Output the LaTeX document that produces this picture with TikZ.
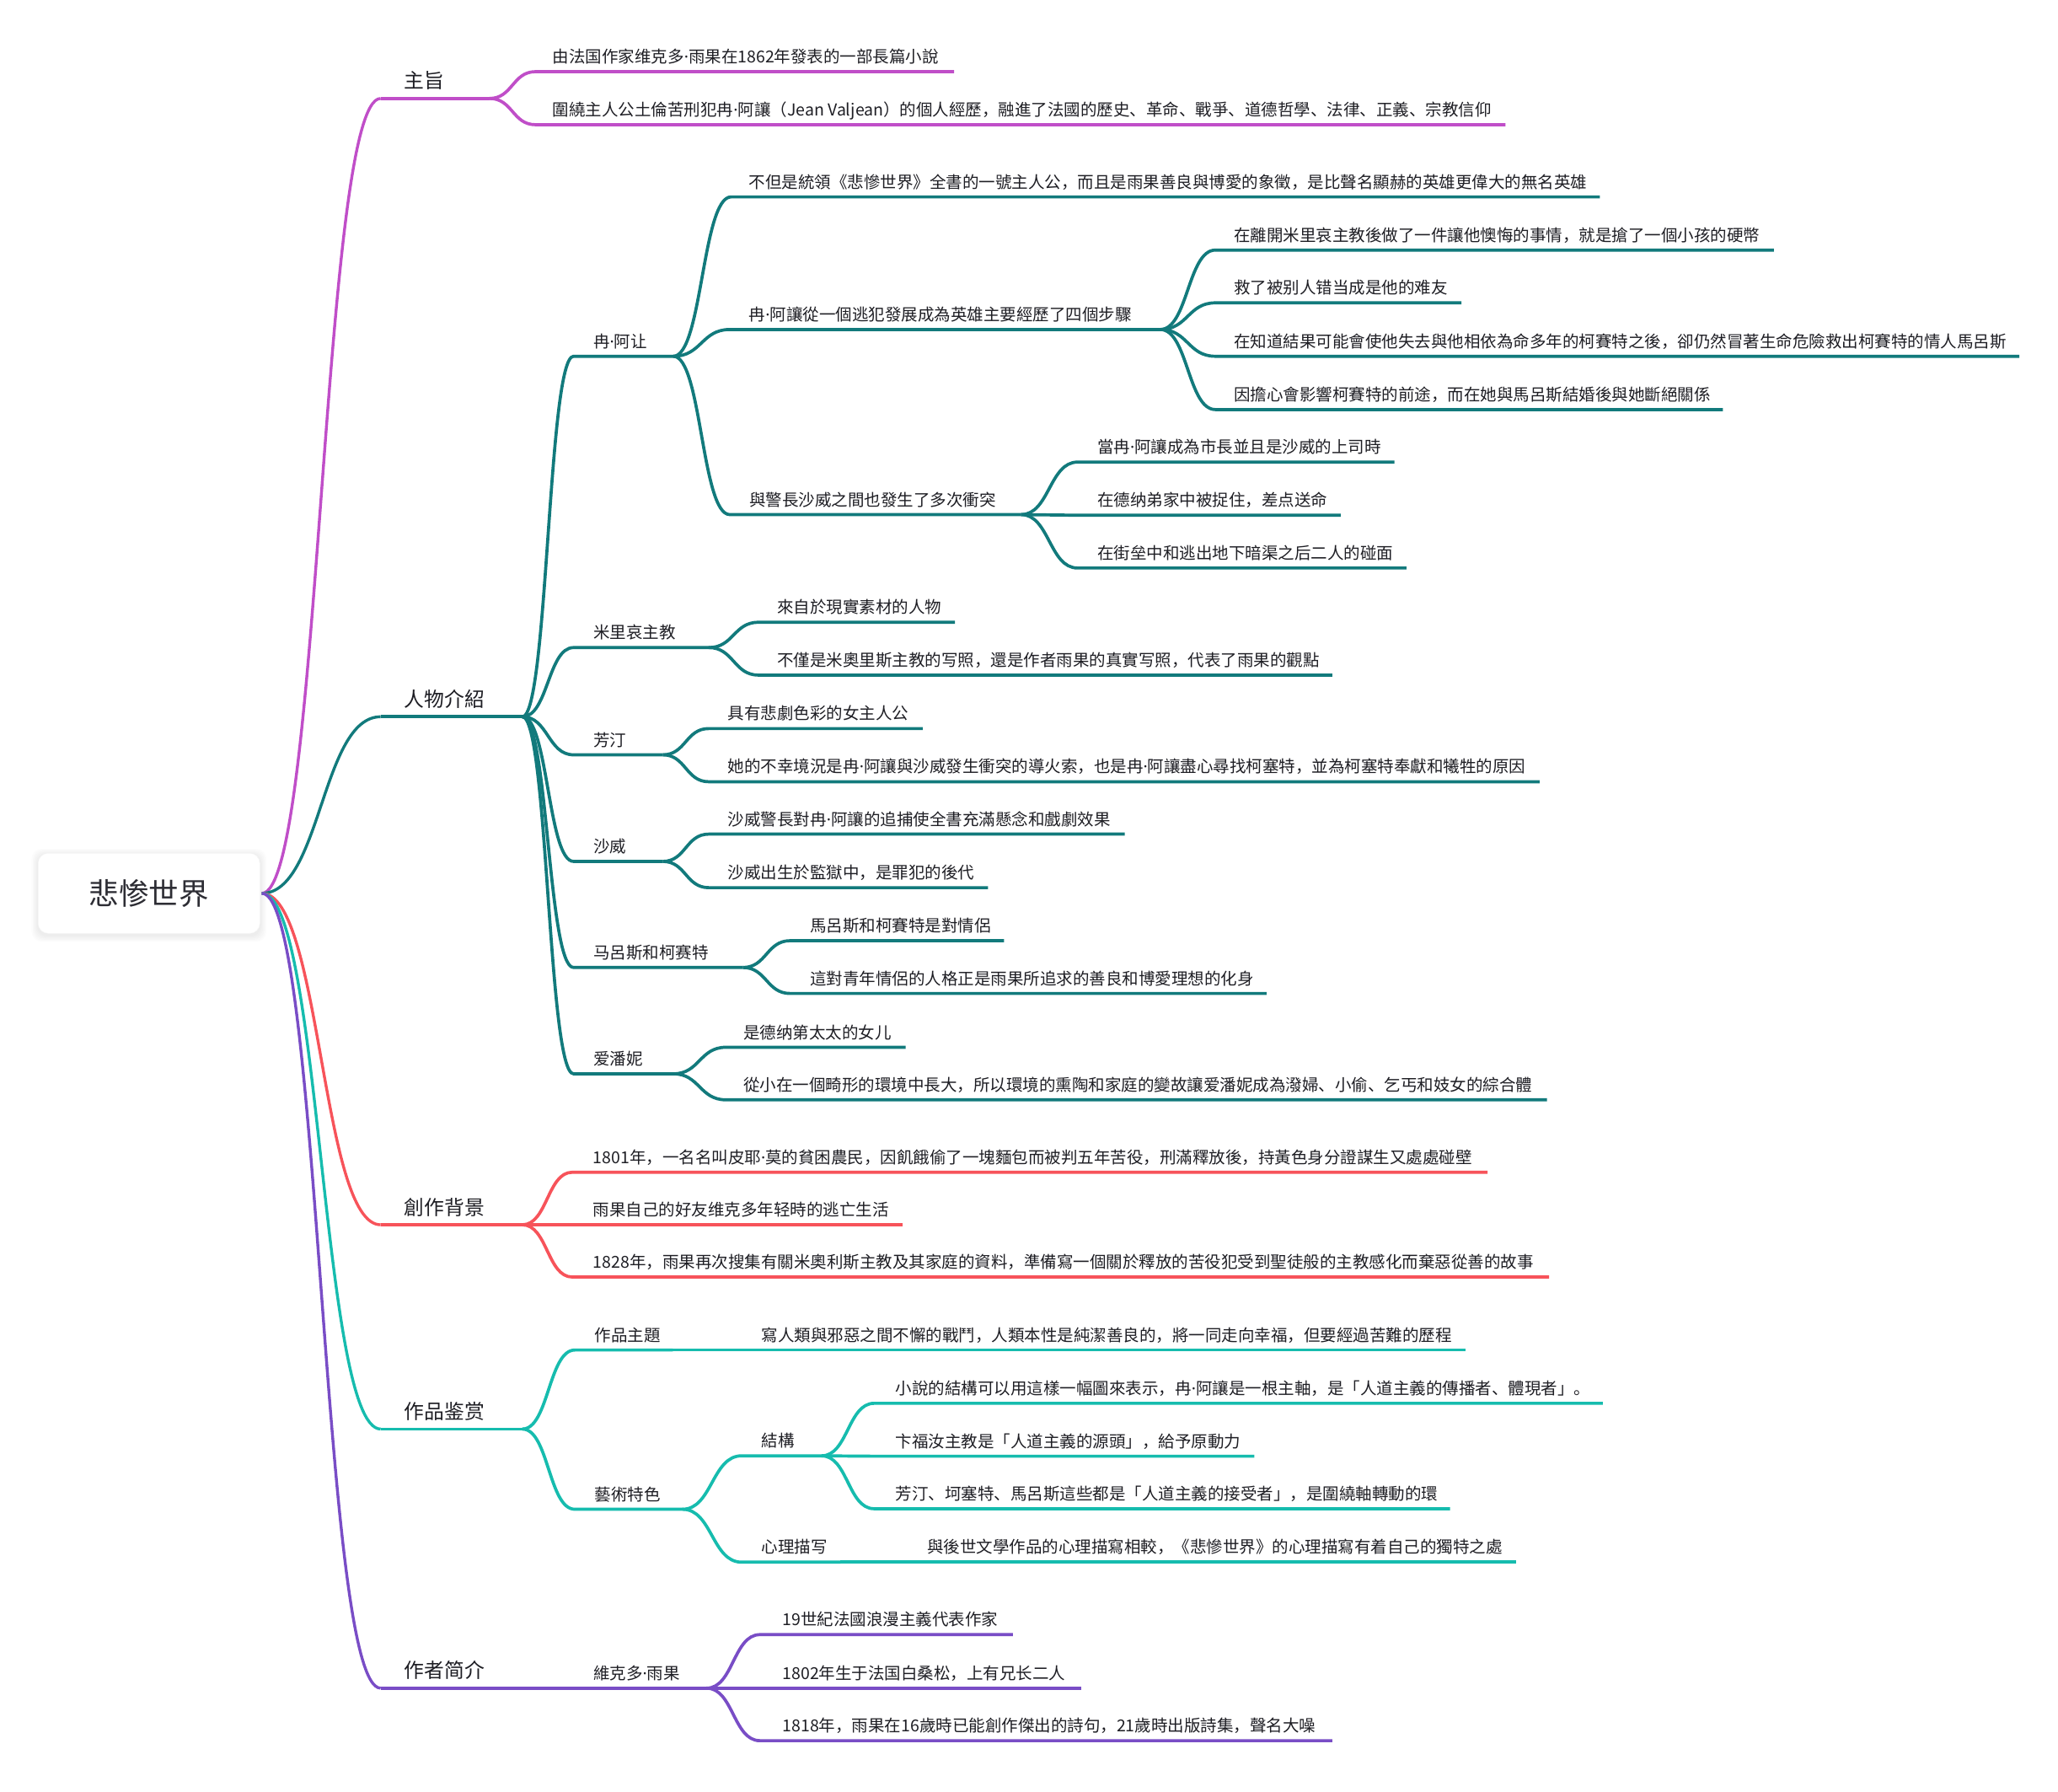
\documentclass[tikz,border=0pt]{standalone}
\usepackage{fontspec}
\setmainfont{Noto Sans CJK SC}
\newfontfamily\latinf{Noto Sans}
\newcommand\md{{\latinf\char"00B7}}
\usetikzlibrary{calc}
\definecolor{cmag}{RGB}{192,78,200}
\definecolor{cteal}{RGB}{18,122,124}
\definecolor{cred}{RGB}{247,83,90}
\definecolor{cturq}{RGB}{22,188,174}
\definecolor{cpurp}{RGB}{121,77,198}
\definecolor{txt}{RGB}{30,30,36}
\definecolor{roottxt}{RGB}{45,45,52}
\newcommand\mmleaf[8]{%
  \coordinate (#1s) at (#4,#5);
  \coordinate (#1e) at (#6,#5);
  \draw[ln,#2] (#3) to[sbranch] (#1s) -- (#1e);
  \node[leaf] (#1) at (#7,{#5-11.5}) {#8};
}
\newcommand\mmtop[7]{%
  \coordinate (#1s) at (#4,#5);
  \coordinate (#1e) at (#6,#5);
  \draw[rootln,#2] (#3) to[sbranch] (#1s);
  \draw[ln,#2] (#1s) -- (#1e);
  \node[top] (#1) at (308,{#5-13.5}) {#7};
}
\begin{document}
\begin{tikzpicture}[x=1.557398pt,y=-1.557398pt,
  sbranch/.style={to path={let \p1=(\tikztostart),\p2=(\tikztotarget) in
     .. controls ({0.5*\x1+0.5*\x2},\y1) and ({0.5*\x1+0.5*\x2},\y2) .. (\tikztotarget)}},
  ln/.style={line width=3.7pt},
  rootln/.style={line width=3.4pt},
  leaf/.style={anchor=west, inner sep=0pt, text=txt,
     font=\fontsize{19.5}{22}\selectfont, text height=17.2pt, text depth=2.3pt},
  top/.style={anchor=west, inner sep=0pt, text=txt,
     font=\fontsize{23.8}{27}\selectfont, text height=20.9pt, text depth=2.9pt}]
\useasboundingbox (0,0) rectangle (1568,1365);
\fill[white] (0,0) rectangle (1568,1365);

% root box with soft shadow
\foreach \i in {1,...,6}{
  \node[name=rsh\i, rectangle, rounded corners=12pt, fill=black, opacity=0.010,
    minimum width={263pt+\i*2.6pt}, minimum height={95pt+\i*2.6pt}, inner sep=0pt]
    at (113.5,682) {};
}
\node[name=root, rectangle, rounded corners=12pt, fill=white, draw=black!3, line width=0.5pt,
  minimum width=263pt, minimum height=95pt, inner sep=0pt, text=roottxt,
  font=\fontsize{35.5}{40}\selectfont] at (113.5,680.5) {悲惨世界};
\coordinate (R) at (199.5,680.5);

% ---------- level 1 ----------
\mmtop{La}{cmag}{R}{290}{75}{373}{主旨}
\mmtop{Lb}{cteal}{R}{290}{546}{398}{人物介紹}
\mmtop{Lc}{cred}{R}{290}{933}{398}{創作背景}
\mmtop{Ld}{cturq}{R}{290}{1088.6}{398}{作品鉴赏}
\mmtop{Le}{cpurp}{R}{290}{1286}{400}{作者简介}

% ---------- 主旨 ----------
\mmleaf{A1}{cmag}{Lae}{408}{54.6}{727}{421}{由法国作家维克多\md 雨果在1862年發表的一部長篇小說}
\mmleaf{A2}{cmag}{Lae}{408}{95}{1147}{421}{圍繞主人公土倫苦刑犯冉\md 阿讓（Jean Valjean）的個人經歷，融進了法國的歷史、革命、戰爭、道德哲學、法律、正義、宗教信仰}

% ---------- 人物介紹 ----------
\mmleaf{B1}{cteal}{Lbe}{437}{271.4}{513}{452}{冉\md 阿让}
\mmleaf{B2}{cteal}{Lbe}{437}{493.3}{540}{452}{米里哀主教}
\mmleaf{B3}{cteal}{Lbe}{437}{575}{505}{452}{芳汀}
\mmleaf{B4}{cteal}{Lbe}{437}{656.2}{505}{452}{沙威}
\mmleaf{B5}{cteal}{Lbe}{437}{737}{566}{452}{马呂斯和柯赛特}
\mmleaf{B6}{cteal}{Lbe}{437}{818}{513}{452}{爱潘妮}

\mmleaf{C1}{cteal}{B1e}{557}{150}{1219}{570.6}{不但是統領《悲慘世界》全書的一號主人公，而且是雨果善良與博愛的象徵，是比聲名顯赫的英雄更偉大的無名英雄}
\mmleaf{C2}{cteal}{B1e}{556}{251}{884}{570.6}{冉\md 阿讓從一個逃犯發展成為英雄主要經歷了四個步驟}
\mmleaf{C3}{cteal}{B1e}{556}{392}{778}{571}{與警長沙威之間也發生了多次衝突}

\mmleaf{D1}{cteal}{C2e}{926}{190.5}{1351.5}{940}{在離開米里哀主教後做了一件讓他懊悔的事情，就是搶了一個小孩的硬幣}
\mmleaf{D2}{cteal}{C2e}{926}{230.7}{1113.5}{940}{救了被别人错当成是他的难友}
\mmleaf{D3}{cteal}{C2e}{926}{271.4}{1538.6}{940}{在知道結果可能會使他失去與他相依為命多年的柯賽特之後，卻仍然冒著生命危險救出柯賽特的情人馬呂斯}
\mmleaf{D4}{cteal}{C2e}{926}{312}{1312.7}{940}{因擔心會影響柯賽特的前途，而在她與馬呂斯結婚後與她斷絕關係}

\mmleaf{E1}{cteal}{C3e}{821}{352}{1062.4}{836}{當冉\md 阿讓成為市長並且是沙威的上司時}
\mmleaf{E2}{cteal}{C3e}{821}{392.5}{1021.5}{836}{在德纳弟家中被捉住，差点送命}
\mmleaf{E3}{cteal}{C3e}{821}{432.7}{1071.5}{836}{在街垒中和逃出地下暗渠之后二人的碰面}

\mmleaf{F1}{cteal}{B2e}{578}{474}{727.6}{592}{來自於現實素材的人物}
\mmleaf{F2}{cteal}{B2e}{578}{514.3}{1015}{592}{不僅是米奧里斯主教的写照，還是作者雨果的真實写照，代表了雨果的觀點}

\mmleaf{G1}{cteal}{B3e}{540}{555}{703}{554.6}{具有悲劇色彩的女主人公}
\mmleaf{G2}{cteal}{B3e}{540}{595.5}{1173}{554.6}{她的不幸境況是冉\md 阿讓與沙威發生衝突的導火索，也是冉\md 阿讓盡心尋找柯塞特，並為柯塞特奉獻和犧牲的原因}

\mmleaf{H1}{cteal}{B4e}{540}{635.4}{857}{554.6}{沙威警長對冉\md 阿讓的追捕使全書充滿懸念和戲劇效果}
\mmleaf{H2}{cteal}{B4e}{540}{676.2}{752.7}{554.6}{沙威出生於監獄中，是罪犯的後代}

\mmleaf{I1}{cteal}{B5e}{602}{716.6}{765}{617}{馬呂斯和柯賽特是對情侶}
\mmleaf{I2}{cteal}{B5e}{602}{756.8}{965}{617}{這對青年情侶的人格正是雨果所追求的善良和博愛理想的化身}

\mmleaf{J1}{cteal}{B6e}{553}{797.8}{690}{566.3}{是德纳第太太的女儿}
\mmleaf{J2}{cteal}{B6e}{553}{837.8}{1178.6}{566.3}{從小在一個畸形的環境中長大，所以環境的熏陶和家庭的變故讓爱潘妮成為潑婦、小偷、乞丐和妓女的綜合體}

% ---------- 創作背景 ----------
\mmleaf{K1}{cred}{Lce}{436}{893}{1133.3}{451.8}{1801年，一名名叫皮耶\md 莫的貧困農民，因飢餓偷了一塊麵包而被判五年苦役，刑滿釋放後，持黃色身分證謀生又處處碰壁}
\mmleaf{K2}{cred}{Lce}{436}{933}{687.7}{451.8}{雨果自己的好友维克多年轻時的逃亡生活}
\mmleaf{K3}{cred}{Lce}{436}{972.8}{1180.2}{451.8}{1828年，雨果再次搜集有關米奧利斯主教及其家庭的資料，準備寫一個關於釋放的苦役犯受到聖徒般的主教感化而棄惡從善的故事}

% ---------- 作品鉴赏 ----------
\mmleaf{M1}{cturq}{Lde}{438}{1028.4}{512.6}{453}{作品主題}
\mmleaf{M1a}{cturq}{M1e}{512.6}{1028.4}{1116.3}{580.2}{寫人類與邪惡之間不懈的戰鬥，人類本性是純潔善良的，將一同走向幸福，但要經過苦難的歷程}
\mmleaf{M2}{cturq}{Lde}{438}{1149.7}{520}{453}{藝術特色}
\mmleaf{N1}{cturq}{M2e}{565}{1109}{626}{580.2}{結構}
\mmleaf{P1}{cturq}{N1e}{666}{1069}{1221.2}{682.3}{小說的結構可以用這樣一幅圖來表示，冉\md 阿讓是一根主軸，是「人道主義的傳播者、體現者」。}
\mmleaf{P2}{cturq}{N1e}{666}{1109.3}{955.7}{682.3}{卞福汝主教是「人道主義的源頭」，給予原動力}
\mmleaf{P3}{cturq}{N1e}{666}{1149.3}{1104.8}{682.3}{芳汀、坷塞特、馬呂斯這些都是「人道主義的接受者」，是圍繞軸轉動的環}
\mmleaf{N2}{cturq}{M2e}{565}{1190}{640.4}{580.2}{心理描写}
\mmleaf{N2a}{cturq}{N2e}{640.4}{1190}{1155.2}{706.3}{與後世文學作品的心理描寫相較，《悲慘世界》的心理描寫有着自己的獨特之處}

% ---------- 作者简介 ----------
\mmleaf{Q}{cpurp}{Lee}{437}{1286}{538.4}{452}{維克多\md 雨果}
\mmleaf{R1}{cpurp}{Qe}{579}{1245.2}{771.7}{596.1}{19世紀法國浪漫主義代表作家}
\mmleaf{R2}{cpurp}{Qe}{579}{1286}{823.5}{596.1}{1802年生于法国白桑松，上有兄长二人}
\mmleaf{R3}{cpurp}{Qe}{579}{1326}{1015}{596.1}{1818年，雨果在16歲時已能創作傑出的詩句，21歲時出版詩集，聲名大噪}
\end{tikzpicture}
\end{document}
